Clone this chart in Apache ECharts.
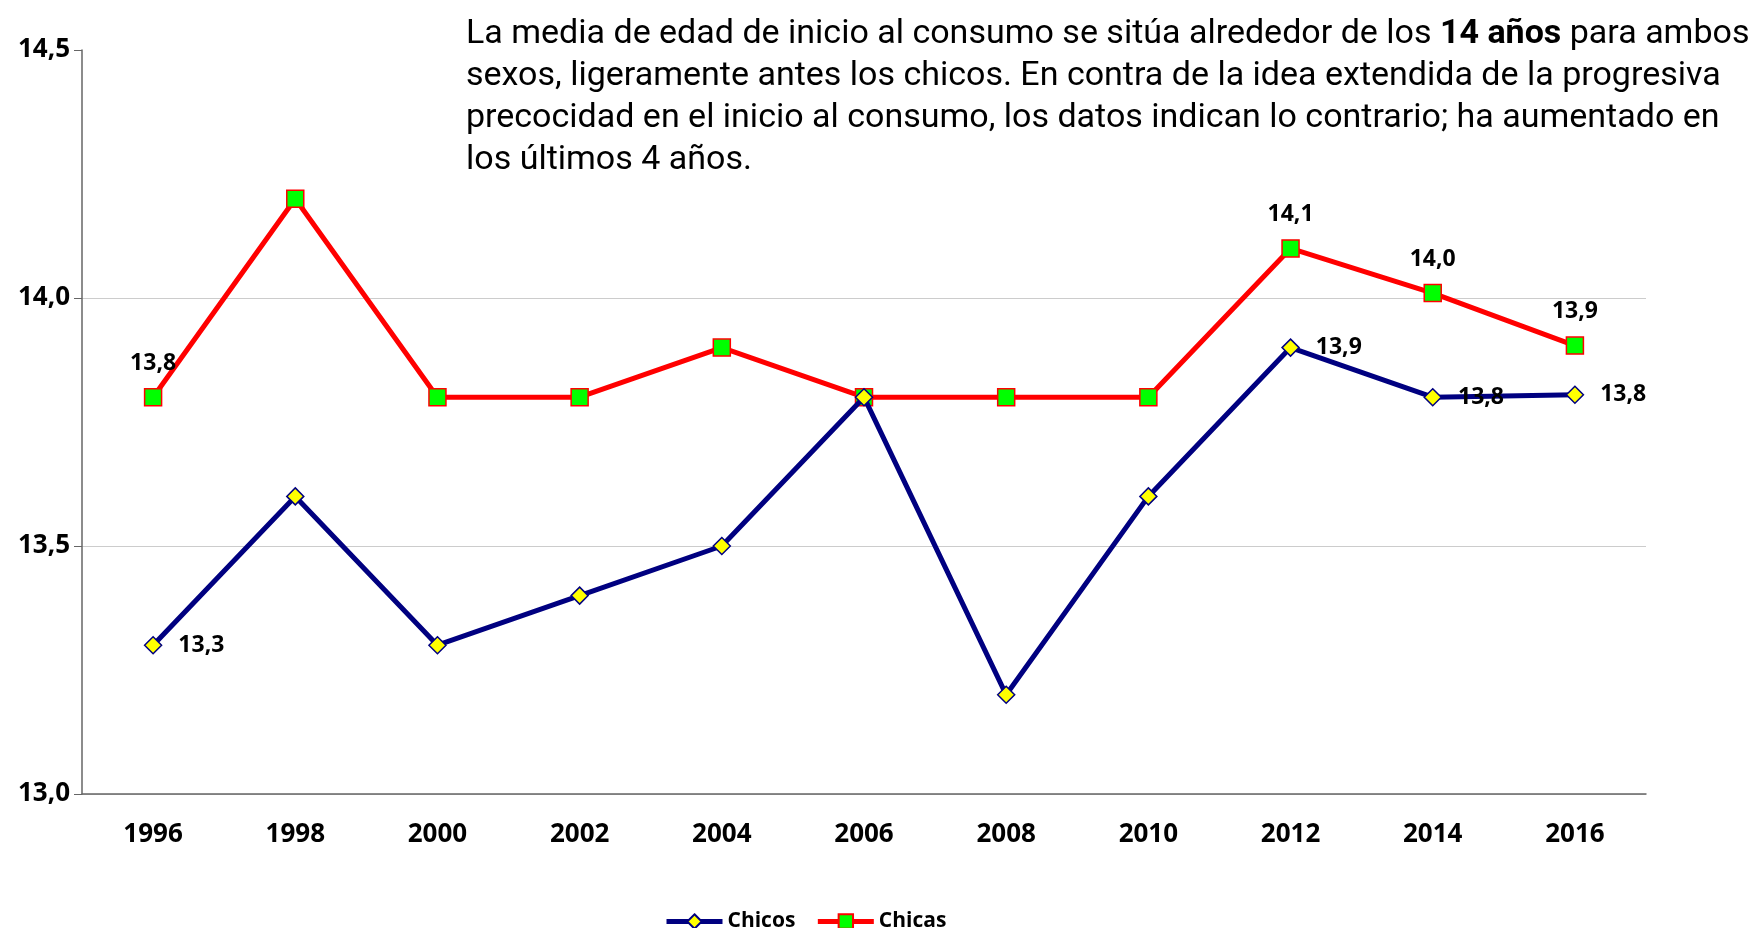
<!DOCTYPE html>
<html>
<head>
<meta charset="utf-8">
<script src="https://cdn.jsdelivr.net/npm/echarts@6/dist/echarts.min.js"></script>
<style>
  html, body { margin: 0; padding: 0; background: #fff; }
  #chart { width: 1752px; height: 928px; }
</style>
</head>
<body>
<div id="chart"></div>
<script>
var years = ['1996', '1998', '2000', '2002', '2004', '2006', '2008', '2010', '2012', '2014', '2016'];
var chicos = [13.3, 13.6, 13.3, 13.4, 13.5, 13.8, 13.2, 13.6, 13.9, 13.8, 13.805];
var chicas = [13.8, 14.2, 13.8, 13.8, 13.9, 13.8, 13.8, 13.8, 14.1, 14.01, 13.904];
// which points carry a value label
var chicosLabeled = [0, 8, 9, 10];
var chicasLabeled = [0, 8, 9, 10];

var chart = echarts.init(document.getElementById('chart'));

function fmt(p) {
    return p.value.toFixed(1).replace('.', ',');
}

function withLabels(values, labeled, labelOpt) {
    return values.map(function (v, i) {
        if (labeled.indexOf(i) < 0) return v;
        return { value: v, label: labelOpt };
    });
}

var labelFont = {
    fontFamily: 'Open Sans',
    fontWeight: 'bold',
    fontSize: 23,
    color: '#000'
};

option = {
    animation: false,
    title: {
        left: 461,
        top: 8,
        text: 'La media de edad de inicio al consumo se sitúa alrededor de los {b|14 años} para ambos\n' +
              'sexos, ligeramente antes los chicos. En contra de la idea extendida de la progresiva\n' +
              'precocidad en el inicio al consumo, los datos indican lo contrario; ha aumentado en\n' +
              'los últimos 4 años.',
        textStyle: {
            fontFamily: 'Roboto',
            fontWeight: 'normal',
            fontSize: 34,
            lineHeight: 42,
            color: '#000',
            rich: {
                b: {
                    fontFamily: 'Roboto',
                    fontWeight: 'bold',
                    fontSize: 34,
                    lineHeight: 42,
                    color: '#000'
                }
            }
        }
    },
    legend: {
        left: 659,
        top: 906,
        itemWidth: 56,
        itemHeight: 18,
        itemGap: 20,
        textStyle: {
            fontFamily: 'Open Sans',
            fontWeight: 'bold',
            fontSize: 21,
            color: '#000'
        },
        data: [
            { name: 'Chicos', lineStyle: { width: 5 } },
            { name: 'Chicas', lineStyle: { width: 5 } }
        ]
    },
    grid: {
        left: 82,
        right: 106,
        top: 50,
        bottom: 134
    },
    xAxis: {
        type: 'category',
        data: years,
        boundaryGap: true,
        axisLine: { lineStyle: { color: '#666', width: 1.5 } },
        axisTick: { length: 9, lineStyle: { color: '#666' } },
        axisLabel: {
            margin: 28,
            fontFamily: 'Open Sans',
            fontWeight: 'bold',
            fontSize: 26,
            color: '#000'
        }
    },
    yAxis: {
        type: 'value',
        min: 13,
        max: 14.5,
        interval: 0.5,
        axisLine: { show: true, lineStyle: { color: '#666', width: 1.5 } },
        axisTick: { show: true, length: 8, lineStyle: { color: '#666' } },
        axisLabel: {
            margin: 12,
            fontFamily: 'Open Sans',
            fontWeight: 'bold',
            fontSize: 26,
            color: '#000',
            formatter: function (v) { return v.toFixed(1).replace('.', ','); }
        },
        splitLine: {
            lineStyle: { color: ['#ccc', '#ccc', '#ccc', 'transparent'], width: 1 }
        }
    },
    series: [
        {
            name: 'Chicos',
            type: 'line',
            data: withLabels(chicos, chicosLabeled,
                Object.assign({ show: true, position: 'right', distance: 16, formatter: fmt }, labelFont)),
            symbol: 'diamond',
            symbolSize: 17,
            lineStyle: { color: '#000080', width: 5 },
            itemStyle: { color: '#ffff00', borderColor: '#000080', borderWidth: 1.5 },
            z: 3
        },
        {
            name: 'Chicas',
            type: 'line',
            data: withLabels(chicas, chicasLabeled,
                Object.assign({ show: true, position: 'top', distance: 13, formatter: fmt }, labelFont)),
            symbol: 'rect',
            symbolSize: 17,
            lineStyle: { color: '#ff0000', width: 5 },
            itemStyle: { color: '#00ff00', borderColor: '#ff0000', borderWidth: 1.5 },
            z: 2
        }
    ]
};

chart.setOption(option);
</script>
</body>
</html>
